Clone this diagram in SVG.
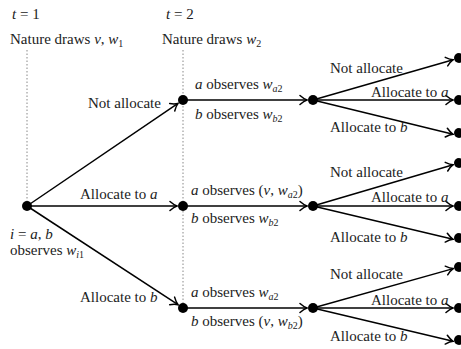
<svg xmlns="http://www.w3.org/2000/svg" width="461" height="349" viewBox="0 0 461 349">
<style>
text{font-family:"Liberation Serif","Times New Roman",serif;font-size:15px;fill:#222}
.m{font-style:italic}
.s{font-size:10px}
.edge{stroke:#000;stroke-width:1.5;fill:none;marker-end:url(#arr)}
.dot{stroke:#888;stroke-width:1;stroke-dasharray:1.5 2;fill:none}
circle{fill:#000}
</style>
<defs>
<marker id="arr" markerUnits="userSpaceOnUse" viewBox="-8 -6 10 12" refX="1" refY="0" markerWidth="10" markerHeight="12" orient="auto">
<path d="M-6,-4.5 Q-2,-1 1,0 Q-2,1 -6,4.5" stroke="#000" stroke-width="1.5" fill="none" stroke-linecap="round"/>
</marker>
</defs>
<g id="timeline">
<text x="12" y="19"><tspan class="m">t</tspan> = 1</text>
<text x="166" y="19"><tspan class="m">t</tspan> = 2</text>
<text x="10" y="44">Nature draws <tspan class="m">v</tspan>, <tspan class="m">w</tspan><tspan class="s" dy="3">1</tspan></text>
<text x="162" y="44">Nature draws <tspan class="m">w</tspan><tspan class="s" dy="3">2</tspan></text>
<line class="dot" x1="27" y1="50" x2="27" y2="204"/>
<line class="dot" x1="183" y1="50" x2="183" y2="306"/>
</g>
<g id="connectors">
<line class="edge" x1="27" y1="206" x2="178" y2="103.4"/>
<line class="edge" x1="27" y1="206" x2="177" y2="206"/>
<line class="edge" x1="27" y1="206" x2="178" y2="304.7"/>
<line class="edge" x1="183" y1="100" x2="307" y2="100"/>
<line class="edge" x1="183" y1="206" x2="307" y2="206"/>
<line class="edge" x1="183" y1="308" x2="307" y2="308"/>
<line class="edge" x1="313" y1="100" x2="453.2" y2="59.7"/>
<line class="edge" x1="313" y1="100" x2="453" y2="100"/>
<line class="edge" x1="313" y1="100" x2="453.1" y2="134.3"/>
<line class="edge" x1="313" y1="206" x2="453.2" y2="164.7"/>
<line class="edge" x1="313" y1="206" x2="453" y2="206"/>
<line class="edge" x1="313" y1="206" x2="453.1" y2="239.3"/>
<line class="edge" x1="313" y1="308" x2="453.2" y2="268.6"/>
<line class="edge" x1="313" y1="308" x2="453" y2="308"/>
<line class="edge" x1="313" y1="308" x2="453.1" y2="341.3"/>
</g>
<g id="edge-labels">
<text x="88" y="108">Not allocate</text>
<text x="80" y="199">Allocate to <tspan class="m">a</tspan></text>
<text x="80" y="302">Allocate to <tspan class="m">b</tspan></text>
<text x="330" y="73">Not allocate</text>
<text x="371" y="97">Allocate to <tspan class="m">a</tspan></text>
<text x="330" y="132">Allocate to <tspan class="m">b</tspan></text>
<text x="330" y="177">Not allocate</text>
<text x="371" y="202">Allocate to <tspan class="m">a</tspan></text>
<text x="330" y="242">Allocate to <tspan class="m">b</tspan></text>
<text x="330" y="279">Not allocate</text>
<text x="371" y="305">Allocate to <tspan class="m">a</tspan></text>
<text x="330" y="341">Allocate to <tspan class="m">b</tspan></text>
</g>
<g id="root">
<circle cx="27" cy="206" r="5"/>
<text x="10" y="239"><tspan class="m">i</tspan> = <tspan class="m">a</tspan>, <tspan class="m">b</tspan></text>
<text x="10" y="255">observes <tspan class="m">w</tspan><tspan class="s m" dy="3">i</tspan><tspan class="s" dy="0">1</tspan></text>
</g>
<g id="n1-top">
<circle cx="183" cy="100" r="5"/>
<text x="195" y="89"><tspan class="m">a</tspan> observes <tspan class="m">w</tspan><tspan class="s m" dy="3">a</tspan><tspan class="s">2</tspan></text>
<text x="195" y="119"><tspan class="m">b</tspan> observes <tspan class="m">w</tspan><tspan class="s m" dy="3">b</tspan><tspan class="s">2</tspan></text>
</g>
<g id="n1-mid">
<circle cx="183" cy="206" r="5"/>
<text x="191" y="195"><tspan class="m">a</tspan> observes (<tspan class="m">v</tspan>, <tspan class="m">w</tspan><tspan class="s m" dy="3">a</tspan><tspan class="s">2</tspan><tspan dy="-3">)</tspan></text>
<text x="191" y="223"><tspan class="m">b</tspan> observes <tspan class="m">w</tspan><tspan class="s m" dy="3">b</tspan><tspan class="s">2</tspan></text>
</g>
<g id="n1-bot">
<circle cx="183" cy="308" r="5"/>
<text x="191" y="297"><tspan class="m">a</tspan> observes <tspan class="m">w</tspan><tspan class="s m" dy="3">a</tspan><tspan class="s">2</tspan></text>
<text x="191" y="326"><tspan class="m">b</tspan> observes (<tspan class="m">v</tspan>, <tspan class="m">w</tspan><tspan class="s m" dy="3">b</tspan><tspan class="s">2</tspan><tspan dy="-3">)</tspan></text>
</g>
<g id="n2-top"><circle cx="313" cy="100" r="5"/></g>
<g id="n2-mid"><circle cx="313" cy="206" r="5"/></g>
<g id="n2-bot"><circle cx="313" cy="308" r="5"/></g>
<g id="leaves">
<circle cx="459" cy="58" r="5"/>
<circle cx="459" cy="100" r="5"/>
<circle cx="459" cy="133" r="5"/>
<circle cx="459" cy="163" r="5"/>
<circle cx="459" cy="206" r="5"/>
<circle cx="459" cy="238" r="5"/>
<circle cx="459" cy="267" r="5"/>
<circle cx="459" cy="308" r="5"/>
<circle cx="459" cy="340" r="5"/>
</g>
</svg>
